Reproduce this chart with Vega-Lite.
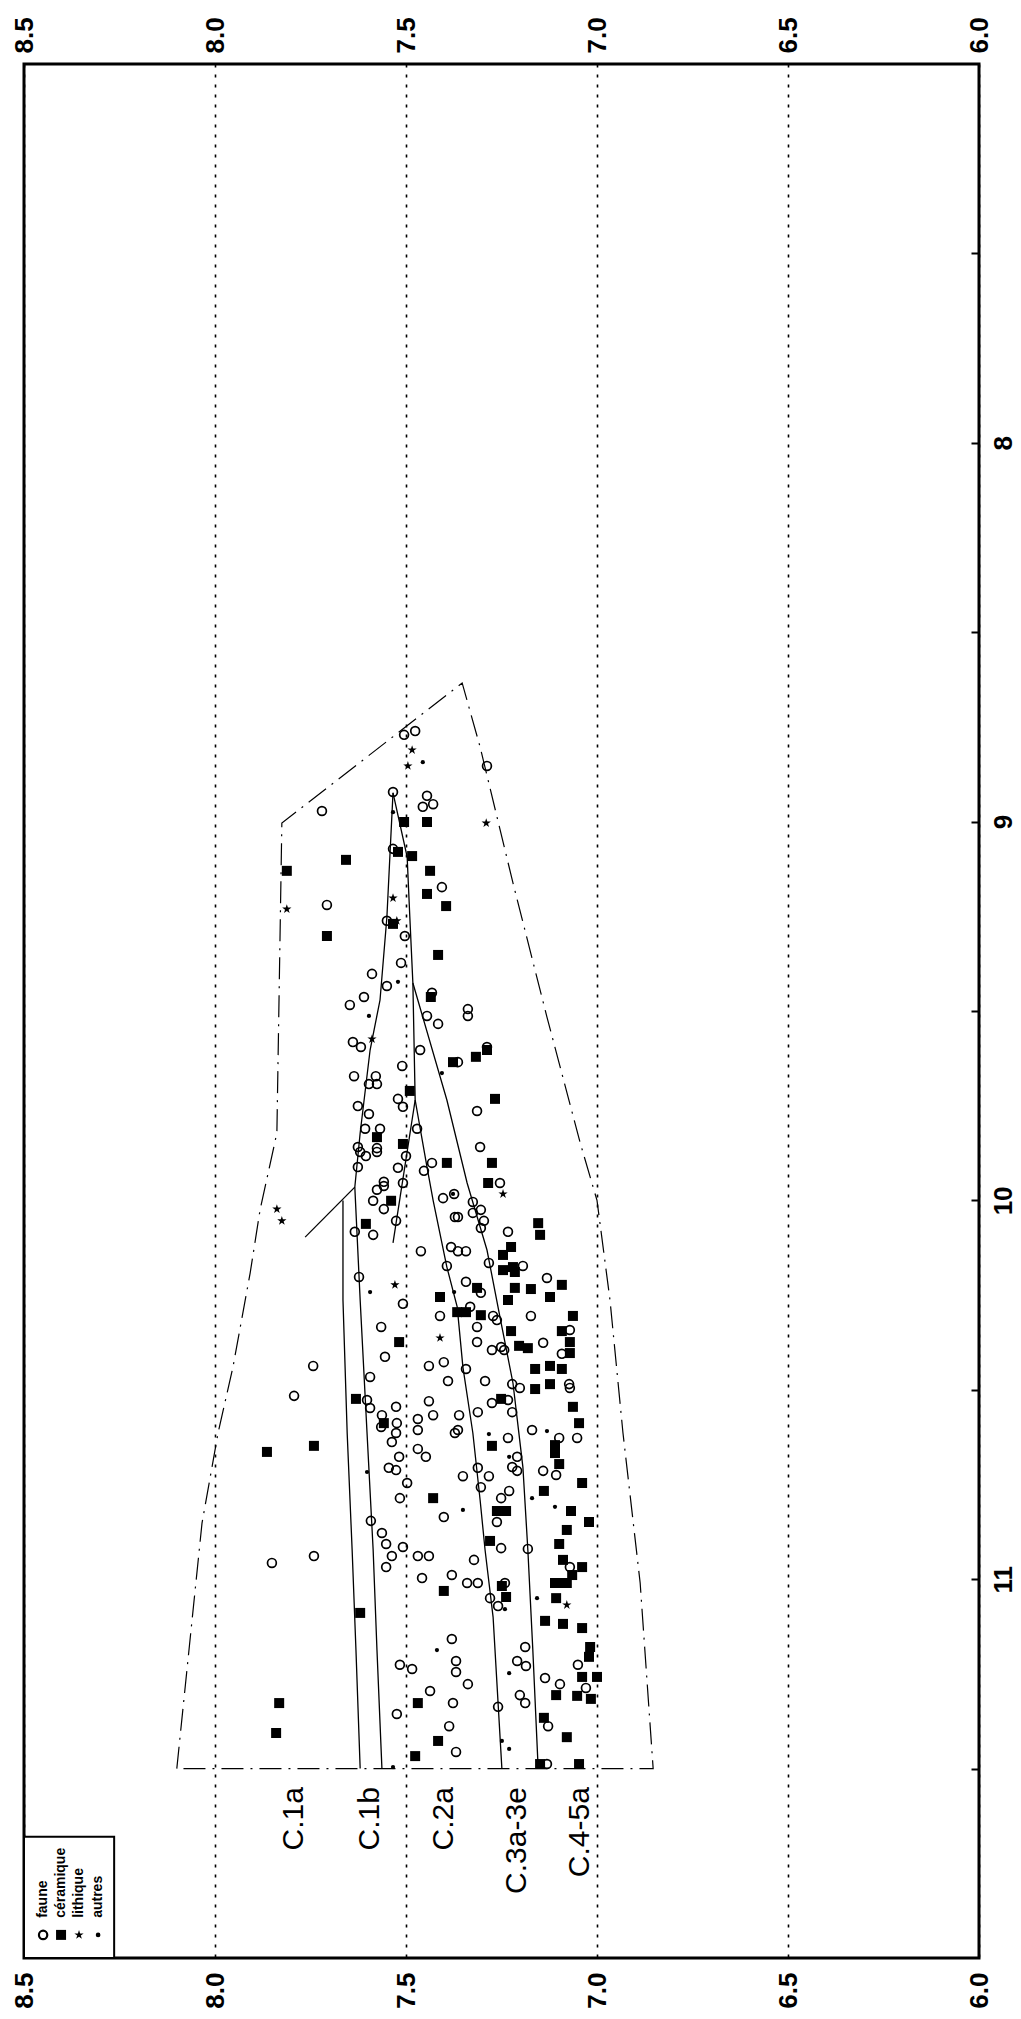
{
"$schema": "https://vega.github.io/schema/vega-lite/v6.json",
"width": 955, "height": 1894,
"autosize": "none",
"padding": {"left": 24, "top": 64, "right": 42, "bottom": 61},
"background": "white",
"config": {"view": {"stroke": "black", "strokeWidth": 3}, "font": "Liberation Sans"},
"datasets": {
"env": [
{"o":1,"e":8.10,"d":11.50},{"o":2,"e":8.034,"d":10.852},{"o":3,"e":7.992,"d":10.614},{"o":4,"e":7.953,"d":10.44},{"o":5,"e":7.908,"d":10.192},{"o":6,"e":7.882,"d":10.025},{"o":7,"e":7.838,"d":9.822},{"o":8,"e":7.825,"d":9.004},{"o":9,"e":7.353,"d":8.634},{"o":10,"e":7.306,"d":8.803},{"o":11,"e":7.22,"d":9.162},{"o":12,"e":7.131,"d":9.516},{"o":13,"e":7.044,"d":9.848},{"o":14,"e":7.0,"d":10.0},{"o":15,"e":6.966,"d":10.263},{"o":16,"e":6.932,"d":10.614},{"o":17,"e":6.887,"d":11.01},{"o":18,"e":6.853,"d":11.50},{"o":19,"e":8.10,"d":11.50}
],
"seg": [
{"s":"a","o":1,"e":7.534,"d":8.924},{"s":"a","o":2,"e":7.55,"d":9.252},{"s":"a","o":3,"e":7.568,"d":9.471},{"s":"a","o":4,"e":7.594,"d":9.603},{"s":"a","o":5,"e":7.62,"d":9.822},{"s":"a","o":6,"e":7.634,"d":9.965},{"s":"a","o":7,"e":7.62,"d":10.263},{"s":"a","o":8,"e":7.602,"d":10.614},{"s":"a","o":9,"e":7.586,"d":10.923},{"s":"a","o":10,"e":7.576,"d":11.187},{"s":"a","o":11,"e":7.563,"d":11.50},
{"s":"diag","o":1,"e":7.634,"d":9.965},{"s":"diag","o":2,"e":7.764,"d":10.097},
{"s":"b","o":1,"e":7.665,"d":10.0},{"s":"b","o":2,"e":7.665,"d":10.263},{"s":"b","o":3,"e":7.654,"d":10.614},{"s":"b","o":4,"e":7.641,"d":10.923},{"s":"b","o":5,"e":7.631,"d":11.187},{"s":"b","o":6,"e":7.62,"d":11.50},
{"s":"d","o":1,"e":7.534,"d":8.924},{"s":"d","o":2,"e":7.497,"d":9.093},{"s":"d","o":3,"e":7.49,"d":9.252},{"s":"d","o":4,"e":7.482,"d":9.426},{"s":"d","o":5,"e":7.476,"d":9.735},{"s":"d","o":6,"e":7.445,"d":9.912},{"s":"d","o":7,"e":7.429,"d":10.0},{"s":"d","o":8,"e":7.393,"d":10.176},{"s":"d","o":9,"e":7.366,"d":10.281},{"s":"d","o":10,"e":7.351,"d":10.44},{"s":"d","o":11,"e":7.325,"d":10.614},{"s":"d","o":12,"e":7.306,"d":10.791},{"s":"d","o":13,"e":7.293,"d":10.923},{"s":"d","o":14,"e":7.272,"d":11.10},{"s":"d","o":15,"e":7.249,"d":11.50},
{"s":"c","o":1,"e":7.476,"d":9.735},{"s":"c","o":2,"e":7.534,"d":10.112},
{"s":"e","o":1,"e":7.482,"d":9.426},{"s":"e","o":2,"e":7.393,"d":9.735},{"s":"e","o":3,"e":7.34,"d":9.954},{"s":"e","o":4,"e":7.288,"d":10.131},{"s":"e","o":5,"e":7.254,"d":10.308},{"s":"e","o":6,"e":7.22,"d":10.482},{"s":"e","o":7,"e":7.194,"d":10.704},{"s":"e","o":8,"e":7.181,"d":10.923},{"s":"e","o":9,"e":7.168,"d":11.187},{"s":"e","o":10,"e":7.154,"d":11.50}
],
"pts": [
{"t":"faune","e":7.505,"d":8.771},{"t":"faune","e":7.476,"d":8.761},{"t":"faune","e":7.288,"d":8.853},{"t":"faune","e":7.534,"d":8.922},{"t":"faune","e":7.445,"d":8.932},{"t":"faune","e":7.456,"d":8.961},{"t":"faune","e":7.429,"d":8.954},{"t":"faune","e":7.72,"d":8.972},{"t":"faune","e":7.534,"d":9.072},{"t":"faune","e":7.406,"d":9.173},{"t":"faune","e":7.707,"d":9.22},{"t":"faune","e":7.55,"d":9.262},{"t":"faune","e":7.503,"d":9.302},{"t":"faune","e":7.513,"d":9.373},{"t":"faune","e":7.589,"d":9.402},{"t":"faune","e":7.55,"d":9.434},{"t":"faune","e":7.61,"d":9.463},{"t":"faune","e":7.647,"d":9.484},{"t":"faune","e":7.338,"d":9.495},{"t":"faune","e":7.338,"d":9.513},{"t":"faune","e":7.445,"d":9.513},{"t":"faune","e":7.416,"d":9.534},{"t":"faune","e":7.639,"d":9.582},{"t":"faune","e":7.618,"d":9.595},{"t":"faune","e":7.463,"d":9.603},{"t":"faune","e":7.288,"d":9.595},{"t":"faune","e":7.51,"d":9.645},{"t":"faune","e":7.364,"d":9.635},{"t":"faune","e":7.636,"d":9.672},{"t":"faune","e":7.579,"d":9.672},{"t":"faune","e":7.597,"d":9.693},{"t":"faune","e":7.576,"d":9.693},{"t":"faune","e":7.521,"d":9.732},{"t":"faune","e":7.508,"d":9.753},{"t":"faune","e":7.626,"d":9.751},{"t":"faune","e":7.597,"d":9.772},{"t":"faune","e":7.314,"d":9.764},{"t":"faune","e":7.607,"d":9.811},{"t":"faune","e":7.568,"d":9.811},{"t":"faune","e":7.471,"d":9.811},{"t":"faune","e":7.626,"d":9.859},{"t":"faune","e":7.576,"d":9.862},{"t":"faune","e":7.306,"d":9.859},{"t":"faune","e":7.432,"d":9.452},
{"t":"faune","e":7.576,"d":9.872},{"t":"faune","e":7.62,"d":9.872},{"t":"faune","e":7.605,"d":9.883},{"t":"faune","e":7.626,"d":9.912},{"t":"faune","e":7.5,"d":9.883},{"t":"faune","e":7.521,"d":9.914},{"t":"faune","e":7.453,"d":9.922},{"t":"faune","e":7.432,"d":9.901},{"t":"faune","e":7.558,"d":9.951},{"t":"faune","e":7.576,"d":9.972},{"t":"faune","e":7.558,"d":9.962},{"t":"faune","e":7.508,"d":9.954},{"t":"faune","e":7.586,"d":10.001},{"t":"faune","e":7.558,"d":10.023},{"t":"faune","e":7.526,"d":10.054},{"t":"faune","e":7.634,"d":10.083},{"t":"faune","e":7.586,"d":10.091},{"t":"faune","e":7.403,"d":9.994},{"t":"faune","e":7.374,"d":9.983},{"t":"faune","e":7.372,"d":10.044},{"t":"faune","e":7.364,"d":10.044},{"t":"faune","e":7.325,"d":10.004},{"t":"faune","e":7.304,"d":10.025},{"t":"faune","e":7.325,"d":10.033},{"t":"faune","e":7.296,"d":10.054},{"t":"faune","e":7.304,"d":10.073},{"t":"faune","e":7.254,"d":9.954},{"t":"faune","e":7.233,"d":10.083},{"t":"faune","e":7.461,"d":10.134},{"t":"faune","e":7.382,"d":10.123},{"t":"faune","e":7.364,"d":10.134},{"t":"faune","e":7.343,"d":10.134},{"t":"faune","e":7.393,"d":10.173},{"t":"faune","e":7.283,"d":10.165},{"t":"faune","e":7.194,"d":10.173},{"t":"faune","e":7.623,"d":10.202},{"t":"faune","e":7.343,"d":10.215},{"t":"faune","e":7.304,"d":10.244},{"t":"faune","e":7.131,"d":10.205},{"t":"faune","e":7.508,"d":10.273},{"t":"faune","e":7.411,"d":10.305},{"t":"faune","e":7.332,"d":10.281},{"t":"faune","e":7.272,"d":10.305},{"t":"faune","e":7.262,"d":10.316},{"t":"faune","e":7.173,"d":10.305},{"t":"faune","e":7.565,"d":10.334},{"t":"faune","e":7.314,"d":10.334},{"t":"faune","e":7.314,"d":10.374},{"t":"faune","e":7.071,"d":10.342},{"t":"faune","e":7.275,"d":10.395},{"t":"faune","e":7.251,"d":10.387},{"t":"faune","e":7.243,"d":10.395},{"t":"faune","e":7.141,"d":10.376},{"t":"faune","e":7.092,"d":10.405},{"t":"faune","e":7.555,"d":10.413},{"t":"faune","e":7.44,"d":10.437},{"t":"faune","e":7.401,"d":10.427},{"t":"faune","e":7.343,"d":10.445},{"t":"faune","e":7.743,"d":10.437},{"t":"faune","e":7.594,"d":10.466},{"t":"faune","e":7.39,"d":10.477},{"t":"faune","e":7.293,"d":10.477},{"t":"faune","e":7.222,"d":10.485},{"t":"faune","e":7.202,"d":10.495},{"t":"faune","e":7.073,"d":10.485},{"t":"faune","e":7.071,"d":10.495},{"t":"faune","e":7.793,"d":10.516},{"t":"faune","e":7.602,"d":10.527},{"t":"faune","e":7.594,"d":10.548},{"t":"faune","e":7.44,"d":10.53},{"t":"faune","e":7.233,"d":10.527},{"t":"faune","e":7.275,"d":10.535},{"t":"faune","e":7.222,"d":10.559},{"t":"faune","e":7.312,"d":10.559},{"t":"faune","e":7.526,"d":10.545},{"t":"faune","e":7.563,"d":10.567},{"t":"faune","e":7.565,"d":10.598},{"t":"faune","e":7.524,"d":10.588},{"t":"faune","e":7.526,"d":10.614},{"t":"faune","e":7.469,"d":10.577},{"t":"faune","e":7.469,"d":10.606},{"t":"faune","e":7.429,"d":10.567},{"t":"faune","e":7.361,"d":10.567},{"t":"faune","e":7.364,"d":10.606},{"t":"faune","e":7.372,"d":10.614},{"t":"faune","e":7.537,"d":10.638},{"t":"faune","e":7.469,"d":10.656},{"t":"faune","e":7.448,"d":10.677},{"t":"faune","e":7.518,"d":10.677},{"t":"faune","e":7.545,"d":10.706},{"t":"faune","e":7.526,"d":10.712},{"t":"faune","e":7.497,"d":10.746},{"t":"faune","e":7.516,"d":10.786},{"t":"faune","e":7.592,"d":10.846},{"t":"faune","e":7.563,"d":10.878},{"t":"faune","e":7.552,"d":10.907},{"t":"faune","e":7.508,"d":10.915},{"t":"faune","e":7.17,"d":10.606},{"t":"faune","e":7.099,"d":10.627},{"t":"faune","e":7.052,"d":10.627},{"t":"faune","e":7.233,"d":10.627},{"t":"faune","e":7.209,"d":10.677},{"t":"faune","e":7.222,"d":10.704},{"t":"faune","e":7.209,"d":10.714},{"t":"faune","e":7.141,"d":10.714},{"t":"faune","e":7.107,"d":10.725},{"t":"faune","e":7.351,"d":10.728},{"t":"faune","e":7.283,"d":10.728},{"t":"faune","e":7.312,"d":10.706},{"t":"faune","e":7.304,"d":10.757},{"t":"faune","e":7.23,"d":10.767},{"t":"faune","e":7.251,"d":10.786},{"t":"faune","e":7.401,"d":10.836},{"t":"faune","e":7.262,"d":10.849},{"t":"faune","e":7.181,"d":10.92},{"t":"faune","e":7.251,"d":10.918},
{"t":"faune","e":7.851,"d":10.957},{"t":"faune","e":7.741,"d":10.939},{"t":"faune","e":7.537,"d":10.939},{"t":"faune","e":7.552,"d":10.968},{"t":"faune","e":7.469,"d":10.939},{"t":"faune","e":7.44,"d":10.939},{"t":"faune","e":7.322,"d":10.949},{"t":"faune","e":7.458,"d":10.997},{"t":"faune","e":7.38,"d":10.989},{"t":"faune","e":7.34,"d":11.01},{"t":"faune","e":7.312,"d":11.01},{"t":"faune","e":7.28,"d":11.05},{"t":"faune","e":7.259,"d":11.071},{"t":"faune","e":7.241,"d":11.01},{"t":"faune","e":7.38,"d":11.158},{"t":"faune","e":7.188,"d":11.179},{"t":"faune","e":7.209,"d":11.216},{"t":"faune","e":7.186,"d":11.229},{"t":"faune","e":7.369,"d":11.216},{"t":"faune","e":7.369,"d":11.245},{"t":"faune","e":7.516,"d":11.226},{"t":"faune","e":7.484,"d":11.237},{"t":"faune","e":7.338,"d":11.277},{"t":"faune","e":7.437,"d":11.295},{"t":"faune","e":7.377,"d":11.327},{"t":"faune","e":7.524,"d":11.356},{"t":"faune","e":7.387,"d":11.388},{"t":"faune","e":7.369,"d":11.456},{"t":"faune","e":7.259,"d":11.337},{"t":"faune","e":7.202,"d":11.306},{"t":"faune","e":7.188,"d":11.327},{"t":"faune","e":7.136,"d":11.261},{"t":"faune","e":7.097,"d":11.277},{"t":"faune","e":7.05,"d":11.226},{"t":"faune","e":7.029,"d":11.287},{"t":"faune","e":7.128,"d":11.388},{"t":"faune","e":7.131,"d":11.488},{"t":"faune","e":7.071,"d":10.968},
{"t":"céramique","e":7.505,"d":9.001},{"t":"céramique","e":7.445,"d":9.001},{"t":"céramique","e":7.812,"d":9.13},{"t":"céramique","e":7.657,"d":9.101},{"t":"céramique","e":7.521,"d":9.08},{"t":"céramique","e":7.484,"d":9.091},{"t":"céramique","e":7.437,"d":9.13},{"t":"céramique","e":7.445,"d":9.191},{"t":"céramique","e":7.395,"d":9.223},{"t":"céramique","e":7.707,"d":9.302},{"t":"céramique","e":7.534,"d":9.27},{"t":"céramique","e":7.416,"d":9.352},{"t":"céramique","e":7.435,"d":9.463},{"t":"céramique","e":7.377,"d":9.635},{"t":"céramique","e":7.317,"d":9.621},{"t":"céramique","e":7.288,"d":9.603},{"t":"céramique","e":7.49,"d":9.711},{"t":"céramique","e":7.267,"d":9.732},{"t":"céramique","e":7.576,"d":9.833},{"t":"céramique","e":7.508,"d":9.851},
{"t":"céramique","e":7.393,"d":9.901},{"t":"céramique","e":7.275,"d":9.901},{"t":"céramique","e":7.285,"d":9.954},{"t":"céramique","e":7.539,"d":10.001},{"t":"céramique","e":7.605,"d":10.062},{"t":"céramique","e":7.154,"d":10.06},{"t":"céramique","e":7.149,"d":10.091},{"t":"céramique","e":7.225,"d":10.123},{"t":"céramique","e":7.246,"d":10.144},{"t":"céramique","e":7.22,"d":10.176},{"t":"céramique","e":7.246,"d":10.184},{"t":"céramique","e":7.215,"d":10.189},{"t":"céramique","e":7.314,"d":10.231},{"t":"céramique","e":7.411,"d":10.255},{"t":"céramique","e":7.215,"d":10.231},{"t":"céramique","e":7.233,"d":10.263},{"t":"céramique","e":7.173,"d":10.234},{"t":"céramique","e":7.123,"d":10.255},{"t":"céramique","e":7.092,"d":10.223},{"t":"céramique","e":7.366,"d":10.295},{"t":"céramique","e":7.343,"d":10.295},{"t":"céramique","e":7.304,"d":10.303},{"t":"céramique","e":7.063,"d":10.305},{"t":"céramique","e":7.225,"d":10.345},{"t":"céramique","e":7.092,"d":10.345},{"t":"céramique","e":7.518,"d":10.374},{"t":"céramique","e":7.204,"d":10.384},{"t":"céramique","e":7.181,"d":10.39},{"t":"céramique","e":7.071,"d":10.374},{"t":"céramique","e":7.071,"d":10.403},{"t":"céramique","e":7.162,"d":10.445},{"t":"céramique","e":7.123,"d":10.437},{"t":"céramique","e":7.092,"d":10.445},{"t":"céramique","e":7.162,"d":10.498},{"t":"céramique","e":7.123,"d":10.485},{"t":"céramique","e":7.631,"d":10.524},{"t":"céramique","e":7.251,"d":10.524},{"t":"céramique","e":7.063,"d":10.545},{"t":"céramique","e":7.047,"d":10.588},{"t":"céramique","e":7.558,"d":10.588},{"t":"céramique","e":7.275,"d":10.648},{"t":"céramique","e":7.11,"d":10.646},{"t":"céramique","e":7.11,"d":10.667},{"t":"céramique","e":7.099,"d":10.696},{"t":"céramique","e":7.741,"d":10.648},{"t":"céramique","e":7.864,"d":10.664},{"t":"céramique","e":7.429,"d":10.786},{"t":"céramique","e":7.139,"d":10.767},{"t":"céramique","e":7.039,"d":10.746},{"t":"céramique","e":7.068,"d":10.82},{"t":"céramique","e":7.262,"d":10.82},{"t":"céramique","e":7.238,"d":10.82},{"t":"céramique","e":7.021,"d":10.849},{"t":"céramique","e":7.079,"d":10.87},{"t":"céramique","e":7.28,"d":10.899},{"t":"céramique","e":7.099,"d":10.907},
{"t":"céramique","e":7.039,"d":10.968},{"t":"céramique","e":7.089,"d":10.949},{"t":"céramique","e":7.065,"d":10.989},{"t":"céramique","e":7.099,"d":11.01},{"t":"céramique","e":7.11,"d":11.01},{"t":"céramique","e":7.079,"d":11.01},{"t":"céramique","e":7.249,"d":11.018},{"t":"céramique","e":7.238,"d":11.047},{"t":"céramique","e":7.401,"d":11.031},{"t":"céramique","e":7.107,"d":11.05},{"t":"céramique","e":7.136,"d":11.11},{"t":"céramique","e":7.089,"d":11.118},{"t":"céramique","e":7.039,"d":11.129},{"t":"céramique","e":7.62,"d":11.089},{"t":"céramique","e":7.018,"d":11.179},{"t":"céramique","e":7.021,"d":11.205},{"t":"céramique","e":7.0,"d":11.258},{"t":"céramique","e":7.039,"d":11.258},{"t":"céramique","e":7.107,"d":11.306},{"t":"céramique","e":7.052,"d":11.308},{"t":"céramique","e":7.016,"d":11.316},{"t":"céramique","e":7.139,"d":11.366},{"t":"céramique","e":7.079,"d":11.417},{"t":"céramique","e":7.469,"d":11.327},{"t":"céramique","e":7.416,"d":11.427},{"t":"céramique","e":7.476,"d":11.467},{"t":"céramique","e":7.149,"d":11.488},{"t":"céramique","e":7.047,"d":11.488},{"t":"céramique","e":7.832,"d":11.327},{"t":"céramique","e":7.84,"d":11.406},
{"t":"lithique","e":7.484,"d":8.811},{"t":"lithique","e":7.495,"d":8.853},{"t":"lithique","e":7.29,"d":9.004},{"t":"lithique","e":7.534,"d":9.202},{"t":"lithique","e":7.812,"d":9.231},{"t":"lithique","e":7.524,"d":9.262},{"t":"lithique","e":7.589,"d":9.574},{"t":"lithique","e":7.838,"d":10.023},{"t":"lithique","e":7.825,"d":10.054},{"t":"lithique","e":7.246,"d":9.983},{"t":"lithique","e":7.529,"d":10.223},{"t":"lithique","e":7.411,"d":10.363},{"t":"lithique","e":7.079,"d":11.068},
{"t":"autres","e":7.456,"d":8.843},{"t":"autres","e":7.534,"d":8.975},{"t":"autres","e":7.521,"d":9.423},{"t":"autres","e":7.597,"d":9.513},{"t":"autres","e":7.406,"d":9.664},{"t":"autres","e":7.377,"d":9.983},{"t":"autres","e":7.594,"d":10.242},{"t":"autres","e":7.374,"d":10.242},{"t":"autres","e":7.283,"d":10.617},{"t":"autres","e":7.131,"d":10.609},{"t":"autres","e":7.602,"d":10.717},{"t":"autres","e":7.23,"d":10.677},{"t":"autres","e":7.17,"d":10.786},{"t":"autres","e":7.11,"d":10.809},{"t":"autres","e":7.351,"d":10.817},{"t":"autres","e":7.157,"d":11.05},{"t":"autres","e":7.241,"d":11.079},{"t":"autres","e":7.419,"d":11.187},{"t":"autres","e":7.23,"d":11.248},{"t":"autres","e":7.249,"d":11.427},{"t":"autres","e":7.23,"d":11.448},{"t":"autres","e":7.534,"d":11.496}
],
"labels": [
{"label":"C.1a","e":7.793,"d":11.549},{"label":"C.1b","e":7.594,"d":11.549},{"label":"C.2a","e":7.401,"d":11.549},{"label":"C.3a-3e","e":7.209,"d":11.549},{"label":"C.4-5a","e":7.045,"d":11.549}
],
"legbox": [{"e1":8.5,"e2":8.264,"d1":11.68,"d2":12.0}],
"leg": [
{"t":"faune","e":8.45,"d":11.939,"td":11.894},{"t":"céramique","e":8.403,"d":11.939,"td":11.894},{"t":"lithique","e":8.356,"d":11.939,"td":11.894},{"t":"autres","e":8.306,"d":11.939,"td":11.894}
]
},
"resolve": {"axis": {"x": "independent", "y": "independent"}},
"layer": [
{
"data": {"name": "env"},
"mark": {"type": "line", "color": "black", "strokeWidth": 1.2, "strokeDash": [22, 7, 2, 7]},
"encoding": {
"x": {"field": "e", "type": "quantitative", "scale": {"domain": [6, 8.5], "reverse": true, "nice": false, "zero": false},
"axis": {"orient": "top", "title": null, "values": [6, 6.5, 7, 7.5, 8, 8.5], "format": ".1f", "labelAngle": 270, "labelAlign": "left", "labelBaseline": "middle", "labelFontSize": 26, "labelFontWeight": "bold", "labelColor": "black", "labelPadding": 11, "labelFlush": false, "labelOverlap": false, "ticks": false, "domain": false, "grid": true, "gridColor": "black", "gridDash": [3, 7], "gridWidth": 1.6, "gridOpacity": 1}},
"y": {"field": "d", "type": "quantitative", "scale": {"domain": [7, 12], "reverse": true, "nice": false, "zero": false},
"axis": {"orient": "right", "title": null, "values": [7.5, 8, 8.5, 9, 9.5, 10, 10.5, 11, 11.5], "labelExpr": "datum.value % 1 === 0 ? format(datum.value, 'd') : ''", "labelAngle": 270, "labelAlign": "center", "labelBaseline": "top", "labelFontSize": 26, "labelFontWeight": "bold", "labelColor": "black", "labelPadding": 19, "labelFlush": false, "labelOverlap": false, "ticks": true, "tickSize": -8, "tickWidth": 2, "tickColor": "black", "domain": false, "grid": false}},
"order": {"field": "o", "type": "quantitative"}
}
},
{
"data": {"name": "seg"},
"mark": {"type": "line", "color": "black", "strokeWidth": 1.3},
"encoding": {
"x": {"field": "e", "type": "quantitative",
"axis": {"orient": "bottom", "title": null, "values": [6, 6.5, 7, 7.5, 8, 8.5], "format": ".1f", "labelAngle": 270, "labelAlign": "right", "labelBaseline": "middle", "labelFontSize": 26, "labelFontWeight": "bold", "labelColor": "black", "labelPadding": 14, "labelFlush": false, "labelOverlap": false, "ticks": false, "domain": false, "grid": false}},
"y": {"field": "d", "type": "quantitative", "axis": null},
"detail": {"field": "s", "type": "nominal"},
"order": {"field": "o", "type": "quantitative"}
}
},
{
"data": {"name": "pts"},
"transform": [{"filter": "datum.t === 'faune'"}],
"mark": {"type": "point", "shape": "circle", "size": 78, "filled": false, "stroke": "black", "strokeWidth": 1.7, "opacity": 1},
"encoding": {"x": {"field": "e", "type": "quantitative", "axis": null}, "y": {"field": "d", "type": "quantitative", "axis": null}}
},
{
"data": {"name": "pts"},
"transform": [{"filter": "datum.t === 'céramique'"}],
"mark": {"type": "point", "shape": "square", "size": 100, "filled": true, "color": "black", "opacity": 1},
"encoding": {"x": {"field": "e", "type": "quantitative", "axis": null}, "y": {"field": "d", "type": "quantitative", "axis": null}}
},
{
"data": {"name": "pts"},
"transform": [{"filter": "datum.t === 'lithique'"}],
"mark": {"type": "point", "shape": "M0,-1L0.224,-0.309L0.951,-0.309L0.363,0.118L0.588,0.809L0,0.382L-0.588,0.809L-0.363,0.118L-0.951,-0.309L-0.224,-0.309Z", "size": 95, "filled": true, "color": "black", "opacity": 1},
"encoding": {"x": {"field": "e", "type": "quantitative", "axis": null}, "y": {"field": "d", "type": "quantitative", "axis": null}}
},
{
"data": {"name": "pts"},
"transform": [{"filter": "datum.t === 'autres'"}],
"mark": {"type": "point", "shape": "circle", "size": 18, "filled": true, "color": "black", "opacity": 1},
"encoding": {"x": {"field": "e", "type": "quantitative", "axis": null}, "y": {"field": "d", "type": "quantitative", "axis": null}}
},
{
"data": {"name": "labels"},
"mark": {"type": "text", "angle": 270, "align": "right", "baseline": "middle", "fontSize": 30, "font": "Liberation Sans", "color": "black"},
"encoding": {
"x": {"field": "e", "type": "quantitative", "axis": null},
"y": {"field": "d", "type": "quantitative", "axis": null},
"text": {"field": "label"}
}
},
{
"data": {"name": "legbox"},
"mark": {"type": "rect", "fill": "white", "stroke": "black", "strokeWidth": 2},
"encoding": {
"x": {"field": "e1", "type": "quantitative", "axis": null},
"x2": {"field": "e2"},
"y": {"field": "d1", "type": "quantitative", "axis": null},
"y2": {"field": "d2"}
}
},
{
"data": {"name": "leg"},
"transform": [{"filter": "datum.t === 'faune'"}],
"mark": {"type": "point", "shape": "circle", "size": 70, "filled": false, "stroke": "black", "strokeWidth": 2.2, "opacity": 1},
"encoding": {"x": {"field": "e", "type": "quantitative", "axis": null}, "y": {"field": "d", "type": "quantitative", "axis": null}}
},
{
"data": {"name": "leg"},
"transform": [{"filter": "datum.t === 'céramique'"}],
"mark": {"type": "point", "shape": "square", "size": 100, "filled": true, "color": "black", "opacity": 1},
"encoding": {"x": {"field": "e", "type": "quantitative", "axis": null}, "y": {"field": "d", "type": "quantitative", "axis": null}}
},
{
"data": {"name": "leg"},
"transform": [{"filter": "datum.t === 'lithique'"}],
"mark": {"type": "point", "shape": "M0,-1L0.224,-0.309L0.951,-0.309L0.363,0.118L0.588,0.809L0,0.382L-0.588,0.809L-0.363,0.118L-0.951,-0.309L-0.224,-0.309Z", "size": 95, "filled": true, "color": "black", "opacity": 1},
"encoding": {"x": {"field": "e", "type": "quantitative", "axis": null}, "y": {"field": "d", "type": "quantitative", "axis": null}}
},
{
"data": {"name": "leg"},
"transform": [{"filter": "datum.t === 'autres'"}],
"mark": {"type": "point", "shape": "circle", "size": 22, "filled": true, "color": "black", "opacity": 1},
"encoding": {"x": {"field": "e", "type": "quantitative", "axis": null}, "y": {"field": "d", "type": "quantitative", "axis": null}}
},
{
"data": {"name": "leg"},
"mark": {"type": "text", "angle": 270, "align": "left", "baseline": "middle", "fontSize": 14, "fontWeight": "bold", "font": "Liberation Sans", "color": "black"},
"encoding": {
"x": {"field": "e", "type": "quantitative", "axis": null},
"y": {"field": "td", "type": "quantitative", "axis": null},
"text": {"field": "t"}
}
}
]
}
